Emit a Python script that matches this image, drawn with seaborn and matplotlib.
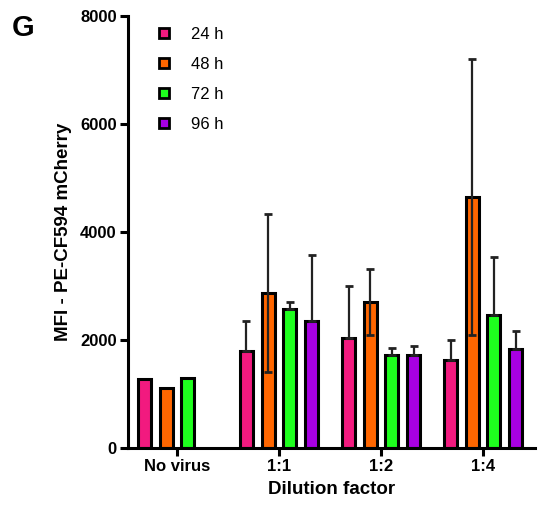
import pandas as pd
import numpy as np
import matplotlib.pyplot as plt
import seaborn as sns

categories = ['No virus', '1:1', '1:2', '1:4']
times = ['24 h', '48 h', '72 h', '96 h']
mfi_24 = [1280, 1800, 2040, 1640]
mfi_48 = [1105, 2870, 2705, 4650]
mfi_72 = [1290, 2570, 1730, 2460]
mfi_96 = [np.nan, 2350, 1730, 1840]
sd_24 = [0, 545, 960, 370]
sd_48 = [0, 1460, 620, 2550]
sd_72 = [0, 130, 115, 1070]
sd_96 = [0, 1230, 160, 330]
colors = ['#F21A7F', '#FF6600', '#1EFF1E', '#A800E2']

rows = []
for t, vals, sds in zip(times, [mfi_24, mfi_48, mfi_72, mfi_96], [sd_24, sd_48, sd_72, sd_96]):
    for c, v, s in zip(categories, vals, sds):
        rows.append({'Dilution': c, 'Time': t, 'MFI': v, 'SD': s})
data = pd.DataFrame(rows)

sns.set_style('ticks', {'axes.edgecolor': 'black', 'text.color': 'black',
                        'axes.labelcolor': 'black', 'xtick.color': 'black',
                        'ytick.color': 'black'})
plt.rcParams['font.family'] = ['Liberation Sans', 'DejaVu Sans']

fig = plt.figure(figsize=(5.4, 5.18), dpi=100)
ax = fig.add_axes([0.237, 0.135, 0.754, 0.834])
sns.barplot(data=data.dropna(), x='Dilution', y='MFI', hue='Time', order=categories,
            hue_order=times, palette=colors, width=0.85, gap=0.4, errorbar=None,
            edgecolor='black', linewidth=2.2, ax=ax, saturation=1)

# error bars (48 h drawn both ways, others upward only)
for t, cont in zip(times, ax.containers):
    for bar in cont:
        xc = bar.get_x() + bar.get_width() / 2
        ci = int(round(xc))
        row = data[(data['Dilution'] == categories[ci]) & (data['Time'] == t)].iloc[0]
        if row['SD'] <= 0:
            continue
        lower = row['SD'] if t == '48 h' else 0
        ax.errorbar(xc, row['MFI'], yerr=[[lower], [row['SD']]], fmt='none',
                    ecolor='#222222', elinewidth=1.6, capsize=3, capthick=2, zorder=5)

ax.set_xlim(-0.48, 3.51)
ax.set_ylim(0, 8000)
ax.set_yticks([0, 2000, 4000, 6000, 8000])
sns.despine(ax=ax)
for s in ['left', 'bottom']:
    ax.spines[s].set_linewidth(2.2)
ax.tick_params(width=2.2, length=6, labelsize=12, pad=2)
for lab in ax.get_xticklabels() + ax.get_yticklabels():
    lab.set_fontweight('bold')
ax.set_xlabel('Dilution factor', fontsize=13.5, fontweight='bold', labelpad=5)
ax.set_ylabel('MFI - PE-CF594 mCherry', fontsize=13.5, fontweight='bold', labelpad=6)

leg = ax.legend(loc='upper left', bbox_to_anchor=(0.04, 1.01), frameon=False,
                fontsize=12, handlelength=0.6, handleheight=0.6, labelspacing=0.9,
                handletextpad=1.3)
for h in leg.legend_handles:
    h.set_edgecolor('black')
    h.set_linewidth(2)

fig.text(0.022, 0.945, 'G', fontsize=21, fontweight='bold', ha='left', va='center')

fig.savefig('out.png', dpi=100)
